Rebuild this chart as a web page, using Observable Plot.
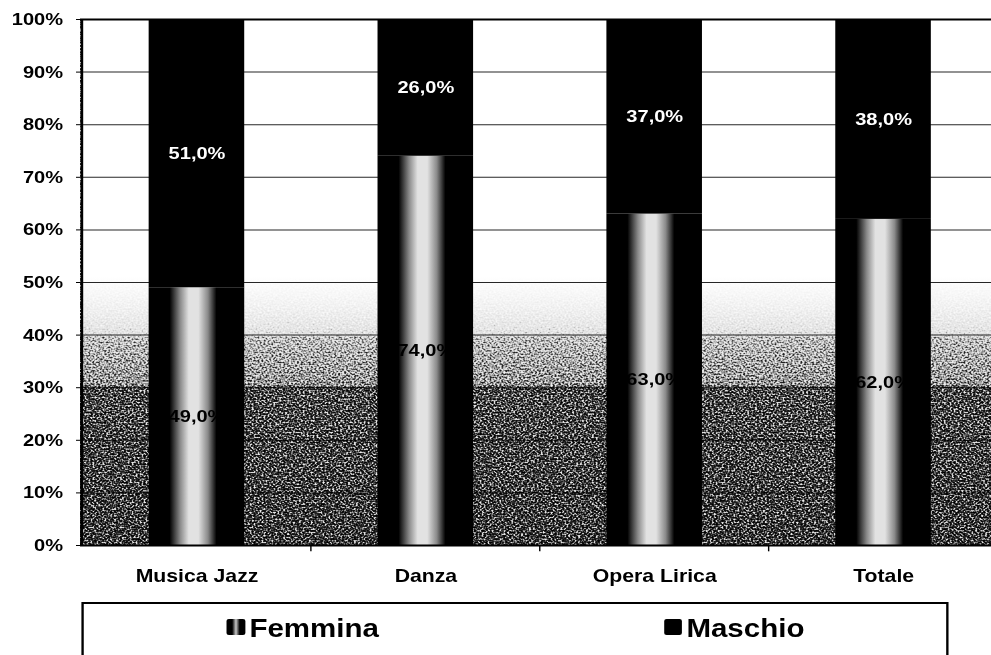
<!DOCTYPE html>
<html>
<head>
<meta charset="utf-8">
<script src="https://cdn.jsdelivr.net/npm/d3@7"></script>
<script src="https://cdn.jsdelivr.net/npm/@observablehq/plot@0.6"></script>
<style>
  html, body { margin: 0; padding: 0; background: #fff; overflow: hidden; }
  #page { position: relative; width: 840px; height: 655px; transform-origin: 0 0; }
  #chart svg { display: block; }
  #legend-box { position: absolute; box-sizing: border-box; border: 2px solid #000; background: #fff; }
  .leg-item { position: absolute; top: 0; height: 100%; font-family: "Liberation Sans", Arial, sans-serif; font-weight: bold; font-size: 25px; line-height: 25px; color: #000; }
  .leg-swatch { position: absolute; width: 15.5px; height: 16px; border-radius: 2px; }
  .leg-label { position: absolute; white-space: nowrap; }
</style>
</head>
<body>
<div id="page">
  <div id="chart"></div>
  <div id="legend-box"></div>
</div>
<script>
// Quota di femmine e maschi per tipo di spettacolo (valori in %)
const categories = ["Musica Jazz", "Danza", "Opera Lirica", "Totale"];
const femmina = [49.0, 74.0, 63.0, 62.0];
const maschio = [51.0, 26.0, 37.0, 38.0];
const yTicks = [0, 10, 20, 30, 40, 50, 60, 70, 80, 90, 100];
const seriesNames = ["Femmina", "Maschio"];

// The page is laid out on a narrower canvas and stretched horizontally.
const FULL_W = 991;
const W = 840;
const SX = FULL_W / W;
document.getElementById("page").style.transform = `scaleX(${SX})`;

const femRows = categories.map((c, i) => ({cat: c, y1: 0, y2: femmina[i], v: femmina[i]}));
const mascRows = categories.map((c, i) => ({cat: c, y1: femmina[i], y2: femmina[i] + maschio[i], v: maschio[i]}));
const fmt = v => v.toFixed(1).replace(".", ",") + "%";

const xStart = 80 / SX;
const xEnd = 1000 / SX;
const step = (xEnd - xStart) / categories.length;

const chart = Plot.plot({
  width: W,
  height: 600,
  marginLeft: xStart,
  marginRight: 0,
  marginTop: 19,
  marginBottom: 55,
  x: {domain: categories, range: [xStart, xEnd], paddingInner: 0.5826, paddingOuter: 0.2913},
  y: {domain: [0, 100]},
  style: {
    fontFamily: '"Liberation Sans", Arial, sans-serif',
    fontWeight: "bold",
    color: "#000",
    background: "transparent",
    overflow: "visible"
  },
  marks: [
    Plot.frame({fill: "url(#bgFill)", stroke: "none"}),
    Plot.ruleY(yTicks.slice(1, -1), {stroke: "#000", strokeWidth: 1, strokeOpacity: 0.85}),
    Plot.barY(femRows, {x: "cat", y1: "y1", y2: "y2", fill: "url(#femFill)", ariaLabel: "femmina"}),
    Plot.barY(mascRows, {x: "cat", y1: "y1", y2: "y2", fill: "#000"}),
    Plot.ruleY([0, 100], {stroke: "#000", strokeWidth: 2}),
    Plot.ruleX([categories[0]], {dx: -step / 2, y1: 0, y2: 100, stroke: "#000", strokeWidth: 2}),
    Plot.ruleX(categories.slice(1), {dx: -step / 2, y1: 0, y2: -1.2, stroke: "#000", strokeWidth: 1.2}),
    Plot.axisY({ticks: yTicks, tickFormat: d => d + "%", tickSize: 4 / SX, tickPadding: 11.5, fontSize: 17, label: null}),
    Plot.axisX({tickSize: 0, tickPadding: 24, fontSize: 18, label: null}),
    Plot.text(femRows, {x: "cat", y: d => (d.y1 + d.y2) / 2, text: d => fmt(d.v), fill: "#000", fontSize: 17, fontWeight: "bold"}),
    Plot.text(mascRows, {x: "cat", y: d => (d.y1 + d.y2) / 2, text: d => fmt(d.v), fill: "#fff", fontSize: 17, fontWeight: "bold"})
  ]
});

// Gradients and grain filters used by the plot area and the Femmina bars
d3.select(chart).insert("defs", ":first-child").html(`
  <linearGradient id="bgFill" x1="0" y1="0" x2="0" y2="1">
    <stop offset="0" stop-color="#ffffff"/>
    <stop offset="0.49" stop-color="#ffffff"/>
    <stop offset="0.55" stop-color="#dedede"/>
    <stop offset="0.6" stop-color="#bababa"/>
    <stop offset="0.605" stop-color="#9e9e9e"/>
    <stop offset="0.695" stop-color="#888888"/>
    <stop offset="0.7" stop-color="#646464"/>
    <stop offset="1" stop-color="#585858"/>
  </linearGradient>
  <linearGradient id="femFill" x1="0" y1="0" x2="1" y2="0">
    <stop offset="0" stop-color="#000"/>
    <stop offset="0.22" stop-color="#000"/>
    <stop offset="0.33" stop-color="#8a8a8a"/>
    <stop offset="0.42" stop-color="#e2e2e2"/>
    <stop offset="0.52" stop-color="#e2e2e2"/>
    <stop offset="0.62" stop-color="#8a8a8a"/>
    <stop offset="0.71" stop-color="#000"/>
    <stop offset="1" stop-color="#000"/>
  </linearGradient>
  <filter id="grainBg" x="0" y="0" width="1" height="1" color-interpolation-filters="sRGB">
    <feTurbulence type="fractalNoise" baseFrequency="0.6" numOctaves="1" seed="7" result="noise"/>
    <feColorMatrix in="noise" type="matrix" values="1 0 0 0 0  1 0 0 0 0  1 0 0 0 0  0 0 0 0 1" result="gray"/>
    <feComposite in="SourceGraphic" in2="gray" operator="arithmetic" k1="-2.6" k2="2.3" k3="2.6" k4="-1.3" result="mix"/>
    <feComponentTransfer in="mix">
      <feFuncR type="table" tableValues="0 0.14 0.86 1"/>
      <feFuncG type="table" tableValues="0 0.14 0.86 1"/>
      <feFuncB type="table" tableValues="0 0.14 0.86 1"/>
    </feComponentTransfer>
  </filter>
  <filter id="grainBar" x="0" y="0" width="1" height="1" color-interpolation-filters="sRGB">
    <feTurbulence type="fractalNoise" baseFrequency="0.6" numOctaves="1" seed="3" result="noise"/>
    <feColorMatrix in="noise" type="matrix" values="1 0 0 0 0  1 0 0 0 0  1 0 0 0 0  0 0 0 0 1" result="gray"/>
    <feComposite in="SourceGraphic" in2="gray" operator="arithmetic" k1="3" k2="-0.5" k3="0" k4="0" result="mix"/>
    <feComponentTransfer in="mix">
      <feFuncR type="table" tableValues="0 0.1 0.9 1"/>
      <feFuncG type="table" tableValues="0 0.1 0.9 1"/>
      <feFuncB type="table" tableValues="0 0.1 0.9 1"/>
      <feFuncA type="linear" slope="0" intercept="1"/>
    </feComponentTransfer>
  </filter>
`);

const frameEl = chart.querySelector('[aria-label="frame"]');
if (frameEl) frameEl.setAttribute("filter", "url(#grainBg)");
const femEl = chart.querySelector('[aria-label="femmina"]');
if (femEl) femEl.setAttribute("filter", "url(#grainBar)");

document.getElementById("chart").appendChild(chart);

// Legend below the plot
const box = document.getElementById("legend-box");
Object.assign(box.style, {left: (81 / SX) + "px", top: "602px", width: (868 / SX) + "px", height: "80px"});
const swatchFills = [
  "linear-gradient(to right, #000 0%, #000 30%, #c8c8c8 50%, #000 70%, #000 100%)",
  "#000"
];
const itemLefts = [227 / SX - 81 / SX - 2, 664 / SX - 81 / SX - 2];
seriesNames.forEach((name, i) => {
  const item = document.createElement("div");
  item.className = "leg-item";
  item.style.left = itemLefts[i] + "px";
  const sw = document.createElement("div");
  sw.className = "leg-swatch";
  sw.style.background = swatchFills[i];
  sw.style.left = "0px";
  sw.style.top = "15px";
  const lab = document.createElement("div");
  lab.className = "leg-label";
  lab.textContent = name;
  lab.style.left = "19px";
  lab.style.top = "12px";
  item.appendChild(sw);
  item.appendChild(lab);
  box.appendChild(item);
});
</script>
</body>
</html>
